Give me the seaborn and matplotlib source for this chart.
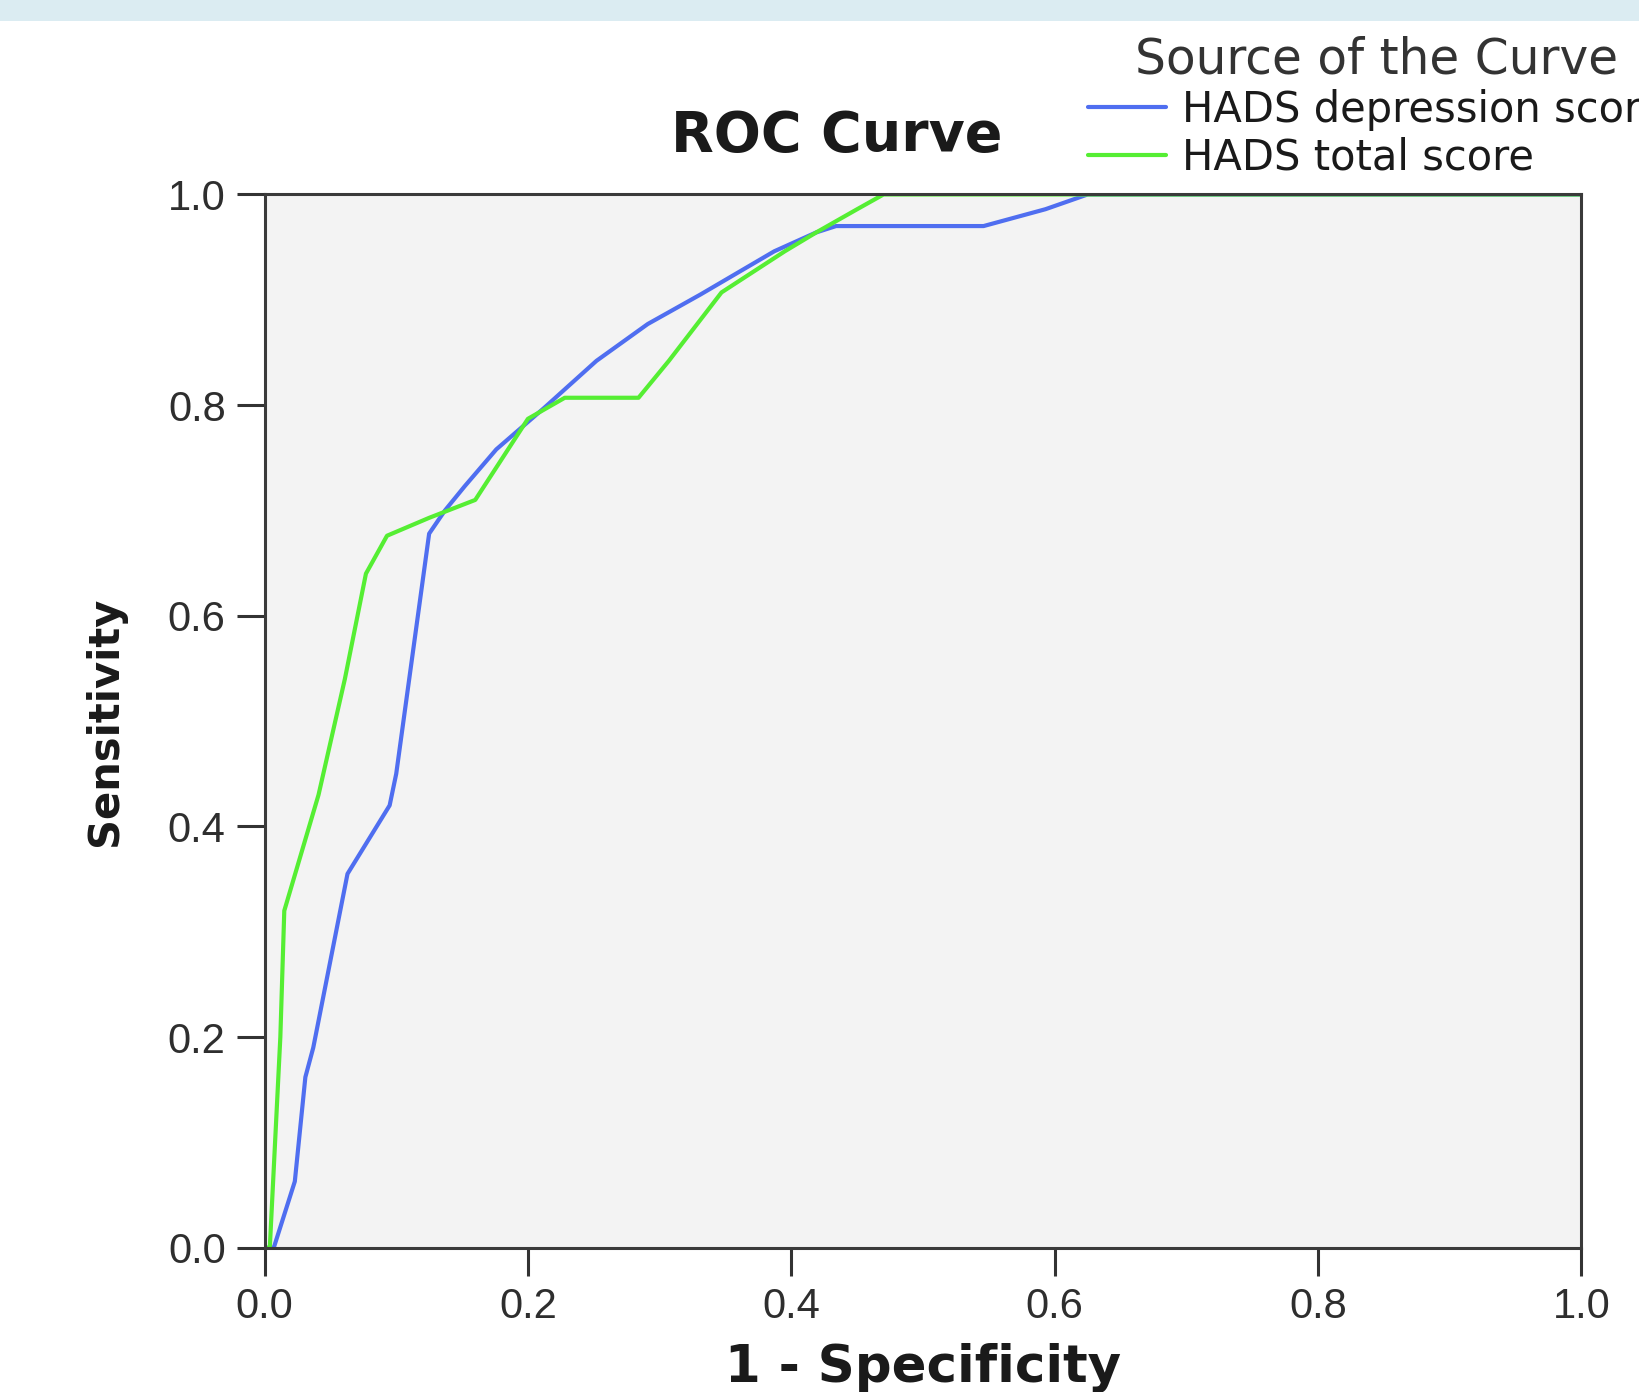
import matplotlib
matplotlib.use("Agg")
import matplotlib.pyplot as plt
import seaborn as sns
import pandas as pd
from matplotlib.patches import Rectangle

# ---- data ----
dep_fpr = [0.0, 0.007, 0.023, 0.031, 0.037, 0.063, 0.095, 0.100, 0.125, 0.137, 0.152,
           0.176, 0.212, 0.252, 0.291, 0.331, 0.387, 0.419, 0.434, 0.546, 0.593, 0.625, 1.0]
dep_tpr = [0.0, 0.0, 0.063, 0.162, 0.19, 0.355, 0.42, 0.45, 0.678, 0.70, 0.723,
           0.758, 0.797, 0.842, 0.877, 0.905, 0.946, 0.964, 0.97, 0.97, 0.986, 1.0, 1.0]

tot_fpr = [0.0, 0.004, 0.012, 0.015, 0.041, 0.061, 0.077, 0.093, 0.125, 0.16, 0.2,
           0.228, 0.284, 0.307, 0.347, 0.395, 0.419, 0.45, 0.47, 1.0]
tot_tpr = [0.0, 0.0, 0.20, 0.32, 0.43, 0.54, 0.64, 0.676, 0.693, 0.71, 0.787,
           0.807, 0.807, 0.842, 0.907, 0.946, 0.964, 0.986, 1.0, 1.0]

series_names = ["HADS depression score", "HADS total score"]
series_colors = ["#4f6ef0", "#55ee33"]
ticks = [0.0, 0.2, 0.4, 0.6, 0.8, 1.0]
tick_labels = ["0.0", "0.2", "0.4", "0.6", "0.8", "1.0"]

df = pd.concat([
    pd.DataFrame({"fpr": dep_fpr, "tpr": dep_tpr, "source": series_names[0]}),
    pd.DataFrame({"fpr": tot_fpr, "tpr": tot_tpr, "source": series_names[1]}),
], ignore_index=True)

sns.set_theme(style="ticks")
plt.rcParams["font.family"] = ["DejaVu Sans"]

fig = plt.figure(figsize=(16.4, 13.92), dpi=100)
fig.patch.set_facecolor("white")
# light blue band on top
fig.add_artist(Rectangle((0, 1 - 21 / 1392), 1, 21 / 1392, transform=fig.transFigure,
                         facecolor="#dbecf2", edgecolor="none", zorder=0))

ax = fig.add_axes([0.1613, 0.1036, 0.9643 - 0.1613, 0.8603 - 0.1036])
ax.set_facecolor("#f3f3f3")

for name, color in zip(series_names, series_colors):
    sub = df[df["source"] == name]
    sns.lineplot(x=sub["fpr"], y=sub["tpr"], color=color, sort=False,
                 estimator=None, linewidth=3.0, ax=ax, label=name)

ax.set_xlim(0, 1)
ax.set_ylim(0, 1)
ax.set_xticks(ticks)
ax.set_yticks(ticks)
tick_font = {"family": ["Liberation Sans", "DejaVu Sans"], "size": 30, "color": "#2e2e2e"}
ax.set_xticklabels(tick_labels, fontdict=tick_font)
ax.set_yticklabels(tick_labels, fontdict=tick_font)
ax.tick_params(axis="both", direction="out", length=20, width=2.2, color="#333333", pad=8)

for sp in ax.spines.values():
    sp.set_visible(True)
    sp.set_color("#3a3a3a")
    sp.set_linewidth(2.2)

ax.set_xlabel("1 - Specificity", fontsize=37, fontweight="bold", color="#1a1a1a", labelpad=12)
ax.set_ylabel("Sensitivity", fontsize=30, fontweight="bold", color="#1a1a1a", labelpad=30)

fig.text(0.510, 0.902, "ROC Curve", fontsize=40, fontweight="bold", color="#1a1a1a",
         ha="center", va="center")

leg = ax.legend(title="Source of the Curve", loc="upper left",
                bbox_to_anchor=(1088 / 1640, 1 - 35 / 1392), bbox_transform=fig.transFigure,
                frameon=False, fontsize=30, title_fontsize=35, handlelength=1.87,
                handletextpad=0.38, labelspacing=0.14, borderpad=0, borderaxespad=0)
leg.get_title().set_color("#333333")
for t in leg.get_texts():
    t.set_color("#1a1a1a")
for h in leg.legend_handles:
    h.set_linewidth(3)

fig.savefig("out.png", dpi=100)
